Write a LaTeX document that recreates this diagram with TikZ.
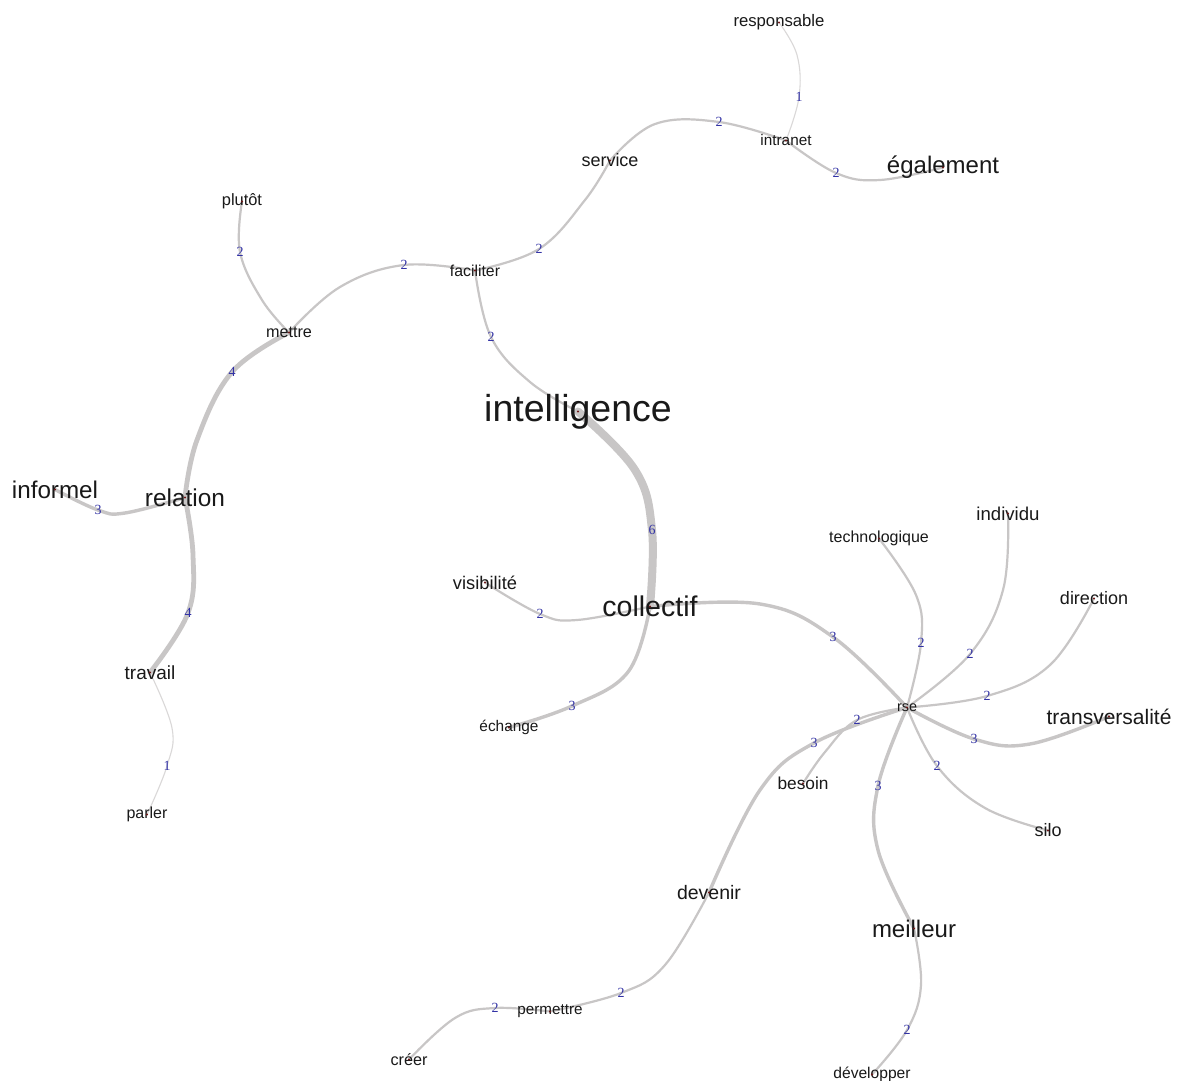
\documentclass[tikz,border=0pt]{standalone}
\usepackage{fontspec}
\setmainfont{Liberation Sans}
\newfontfamily\numfont{Liberation Serif}
\usetikzlibrary{backgrounds}
\definecolor{edgec}{RGB}{200,198,198}
\definecolor{edgelc}{RGB}{218,216,216}
\definecolor{numc}{RGB}{50,50,165}
\definecolor{dotc}{RGB}{110,25,25}
\definecolor{txtc}{RGB}{25,25,25}
\tikzset{
  word/.style={inner sep=0pt, yshift=-1.5pt, text=txtc, font=\fontsize{#1}{#1}\selectfont},
  wt/.style={inner sep=0pt, text=numc, font=\numfont\fontsize{14}{14}\selectfont},
  ebase/.style={draw=edgec, line cap=round, line join=round},
  e1/.style={ebase, draw=edgelc, line width=1.1pt},
  e2/.style={ebase, line width=2.2pt},
  e3/.style={ebase, line width=3.4pt},
  e4/.style={ebase, line width=4.8pt},
  e6/.style={ebase, line width=8pt},
  sm/.style={smooth, tension=0.65},
}
\begin{document}
\begin{tikzpicture}[x=1pt, y=-1pt]
\useasboundingbox (0,0) rectangle (1183,1081);
% words
\node[word=16.7] (resp) at (779,21) {responsable};
\node[word=15.3] (intra) at (786,139) {intranet};
\node[word=24] (egal) at (943,166) {également};
\node[word=18] (serv) at (610,159) {service};
\node[word=15.8] (facil) at (475,269) {faciliter};
\node[word=16.4] (plutot) at (242,200) {plutôt};
\node[word=16.2] (mettre) at (289,331) {mettre};
\node[word=37.5] (intel) at (578,410) {intelligence};
\node[word=24.2] (informel) at (55,488) {informel};
\node[word=24.4] (relation) at (185,496) {relation};
\node[word=19] (travail) at (150,671) {travail};
\node[word=16] (parler) at (147,813) {parler};
\node[word=18.3] (visib) at (485,581) {visibilité};
\node[word=28.5] (coll) at (650,605) {collectif};
\node[word=15.4] (echange) at (509,726) {échange};
\node[word=16] (techno) at (879,537) {technologique};
\node[word=18.6] (indiv) at (1008,512) {individu};
\node[word=18] (direc) at (1094,597) {direction};
\node[word=14.4] (rse) at (907,706) {rse};
\node[word=21] (transv) at (1109,715) {transversalité};
\node[word=17.3] (besoin) at (803,782) {besoin};
\node[word=18] (silo) at (1048,829) {silo};
\node[word=24] (meill) at (914,927) {meilleur};
\node[word=19.5] (devenir) at (709,891) {devenir};
\node[word=15.2] (permet) at (550,1010) {permettre};
\node[word=16.2] (creer) at (409,1058) {créer};
\node[word=15.6] (develop) at (872,1073) {développer};
% weight labels
\node[wt] (w1) at (799,97) {1};
\node[wt] (w2) at (719,122) {2};
\node[wt] (w3) at (836,173) {2};
\node[wt] (w4) at (539,249) {2};
\node[wt] (w5) at (404,265) {2};
\node[wt] (w6) at (491,337) {2};
\node[wt] (w7) at (240,252) {2};
\node[wt] (w8) at (232,372) {4};
\node[wt] (w9) at (98,510) {3};
\node[wt] (w10) at (188,613) {4};
\node[wt] (w11) at (167,766) {1};
\node[wt] (w12) at (652,530) {6};
\node[wt] (w13) at (540,614) {2};
\node[wt] (w14) at (572,706) {3};
\node[wt] (w15) at (833,637) {3};
\node[wt] (w16) at (921,643) {2};
\node[wt] (w17) at (970,654) {2};
\node[wt] (w18) at (987,696) {2};
\node[wt] (w19) at (974,739) {3};
\node[wt] (w20) at (937,766) {2};
\node[wt] (w21) at (878,786) {3};
\node[wt] (w22) at (857,720) {2};
\node[wt] (w23) at (814,743) {3};
\node[wt] (w24) at (907,1030) {2};
\node[wt] (w25) at (621,993) {2};
\node[wt] (w26) at (495,1008) {2};
% edges
\begin{scope}[on background layer]
\fill[white] (0,0) rectangle (1183,1081);
\draw[e1] plot[sm] coordinates {(resp.center) (797,55) (w1.center) (intra.center)};
\draw[e2] plot[sm] coordinates {(serv.center) (655,124) (w2.center) (intra.center)};
\draw[e2] plot[sm] coordinates {(intra.center) (w3.center) (880,180) (egal.center)};
\draw[e2] plot[sm] coordinates {(facil.center) (w4.center) (585,200) (serv.center)};
\draw[e2] plot[sm] coordinates {(mettre.center) (340,287) (w5.center) (facil.center)};
\draw[e2] plot[sm] coordinates {(facil.center) (w6.center) (530,382) (intel.center)};
\draw[e2] plot[sm] coordinates {(plutot.center) (w7.center) (262,300) (mettre.center)};
\draw[e4] plot[sm] coordinates {(mettre.center) (w8.center) (197,440) (relation.center)};
\draw[e3] plot[sm] coordinates {(relation.center) (125,513) (w9.center) (informel.center)};
\draw[e4] plot[sm] coordinates {(relation.center) (193,555) (w10.center) (travail.center)};
\draw[e1] plot[sm] coordinates {(travail.center) (172,728) (w11.center) (parler.center)};
\draw[e6] plot[sm] coordinates {(intel.center) (635,470) (w12.center) (coll.center)};
\draw[e2] plot[sm] coordinates {(coll.center) (577,620) (w13.center) (visib.center)};
\draw[e3] plot[sm] coordinates {(coll.center) (628,672) (w14.center) (echange.center)};
\draw[e3] plot[sm] coordinates {(coll.center) (760,604) (w15.center) (rse.center)};
\draw[e2] plot[sm] coordinates {(rse.center) (w16.center) (916,595) (techno.center)};
\draw[e2] plot[sm] coordinates {(rse.center) (w17.center) (1003,590) (indiv.center)};
\draw[e2] plot[sm] coordinates {(rse.center) (w18.center) (1050,665) (direc.center)};
\draw[e3] plot[sm] coordinates {(rse.center) (w19.center) (1030,744) (transv.center)};
\draw[e2] plot[sm] coordinates {(rse.center) (w20.center) (985,808) (silo.center)};
\draw[e3] plot[sm] coordinates {(rse.center) (w21.center) (878,850) (meill.center)};
\draw[e2] plot[sm] coordinates {(rse.center) (w22.center) (825,752) (besoin.center)};
\draw[e3] plot[sm] coordinates {(rse.center) (w23.center) (760,790) (devenir.center)};
\draw[e2] plot[sm] coordinates {(meill.center) (921,985) (w24.center) (develop.center)};
\draw[e2] plot[sm] coordinates {(devenir.center) (665,965) (w25.center) (permet.center)};
\draw[e2] plot[sm] coordinates {(permet.center) (w26.center) (455,1018) (creer.center)};
\end{scope}
% vertex dots
\foreach \v in {resp,intra,egal,serv,facil,plutot,mettre,intel,informel,relation,travail,parler,visib,coll,echange,techno,indiv,direc,rse,transv,besoin,silo,meill,devenir,permet,creer,develop}
  \fill[dotc] (\v.center) circle (1.2);
\end{tikzpicture}
\end{document}
